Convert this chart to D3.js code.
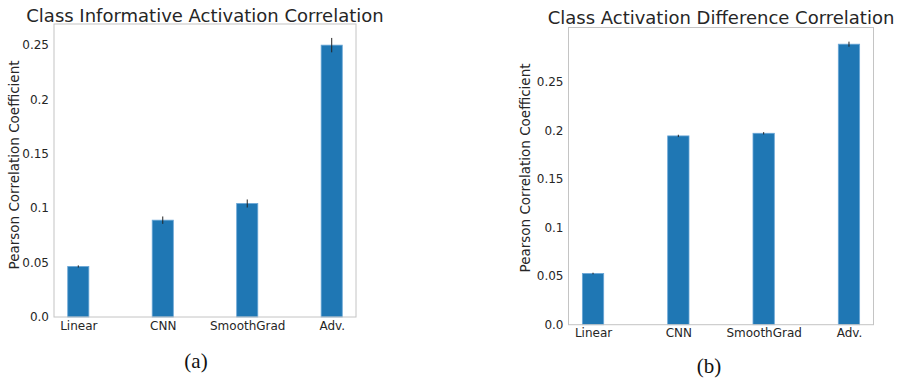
<!DOCTYPE html>
<html>
<head>
<meta charset="utf-8">
<script src="https://cdn.jsdelivr.net/npm/d3@7"></script>
<style>
  html, body { margin: 0; padding: 0; background: #fff; }
  svg { display: block; }
</style>
</head>
<body>
<svg id="fig" width="899" height="379"></svg>
<script>
// Methods compared in both panels
const methods = ["Linear", "CNN", "SmoothGrad", "Adv."];

// Panel (a): class informative activation correlation
const informativeMean = [0.0464, 0.0889, 0.1042, 0.2496];
const informativeErr  = [0.0010, 0.0034, 0.0037, 0.0066];

// Panel (b): class activation difference correlation
const differenceMean = [0.0527, 0.1943, 0.1970, 0.2887];
const differenceErr  = [0.0008, 0.0012, 0.0012, 0.0026];

const yTicks = [0, 0.05, 0.1, 0.15, 0.2, 0.25];
const yTickLabels = ["0.0", "0.05", "0.1", "0.15", "0.2", "0.25"];

const panels = [
  { title: "Class Informative Activation Correlation", caption: "(a)",
    mean: informativeMean, err: informativeErr,
    box: { left: 54, right: 356, top: 24, bottom: 317 },
    titleY: 21.5, labelX: 14, labelY: 165, captionX: 196, captionY: 368 },
  { title: "Class Activation Difference Correlation", caption: "(b)",
    mean: differenceMean, err: differenceErr,
    box: { left: 568.5, right: 873.5, top: 27.5, bottom: 324.7 },
    titleY: 24, labelX: 525, labelY: 168, captionX: 709, captionY: 373 }
];

const svg = d3.select("#fig");
svg.append("rect").attr("width", 899).attr("height", 379).attr("fill", "#fff");

const font = "'DejaVu Sans', sans-serif";
const textColor = "#262626";
const spineColor = "#c4c4c4";
const barColor = "#1f77b4";
const barWidth = 0.25;

panels.forEach(p => {
  const b = p.box;
  const g = svg.append("g");

  const x = d3.scaleLinear()
    .domain([-barWidth / 2 - 0.1625, methods.length - 1 + barWidth / 2 + 0.1625])
    .range([b.left, b.right]);
  const yMax = d3.max(p.mean, (m, i) => m + p.err[i]) * 1.05;
  const y = d3.scaleLinear().domain([0, yMax]).range([b.bottom, b.top]);

  // bars
  g.selectAll("rect.bar").data(p.mean).enter().append("rect")
    .attr("class", "bar")
    .attr("x", (d, i) => x(i - barWidth / 2))
    .attr("width", x(barWidth) - x(0))
    .attr("y", d => y(d))
    .attr("height", d => y(0) - y(d))
    .attr("fill", barColor)
    .attr("stroke", "#6aa6d6")
    .attr("stroke-width", 0.8);

  // error bars
  g.selectAll("line.err").data(p.mean).enter().append("line")
    .attr("class", "err")
    .attr("x1", (d, i) => x(i)).attr("x2", (d, i) => x(i))
    .attr("y1", (d, i) => y(d - p.err[i]))
    .attr("y2", (d, i) => y(d + p.err[i]))
    .attr("stroke", "#222")
    .attr("stroke-width", 1);

  // frame
  g.append("rect")
    .attr("x", b.left).attr("y", b.top)
    .attr("width", b.right - b.left).attr("height", b.bottom - b.top)
    .attr("fill", "none").attr("stroke", spineColor).attr("stroke-width", 1);

  // y axis (labels only, no tick marks)
  const yAxis = d3.axisLeft(y)
    .tickValues(yTicks)
    .tickFormat((d, i) => yTickLabels[i])
    .tickSize(0).tickPadding(5);
  const ya = g.append("g").attr("transform", `translate(${b.left},0)`).call(yAxis);
  ya.select(".domain").remove();
  ya.selectAll("text").attr("font-family", font).attr("font-size", 12).attr("fill", textColor);

  // x axis
  const xAxis = d3.axisBottom(x)
    .tickValues(d3.range(methods.length))
    .tickFormat(i => methods[i])
    .tickSize(0).tickPadding(4);
  const xa = g.append("g").attr("transform", `translate(0,${b.bottom})`).call(xAxis);
  xa.select(".domain").remove();
  xa.selectAll("text").attr("font-family", font).attr("font-size", 12).attr("fill", textColor);

  // title
  g.append("text")
    .attr("x", (b.left + b.right) / 2).attr("y", p.titleY)
    .attr("text-anchor", "middle")
    .attr("font-family", font).attr("font-size", 18).attr("fill", textColor)
    .text(p.title);

  // y label
  g.append("text")
    .attr("transform", `translate(${p.labelX},${p.labelY}) rotate(-90)`)
    .attr("text-anchor", "middle").attr("dominant-baseline", "central")
    .attr("font-family", font).attr("font-size", 13.5).attr("fill", textColor)
    .text("Pearson Correlation Coefficient");

  // panel caption
  g.append("text")
    .attr("x", p.captionX).attr("y", p.captionY)
    .attr("text-anchor", "middle")
    .attr("font-family", "'Liberation Serif', 'Times New Roman', serif")
    .attr("font-size", 21).attr("fill", "#111")
    .text(p.caption);
});
</script>
</body>
</html>
